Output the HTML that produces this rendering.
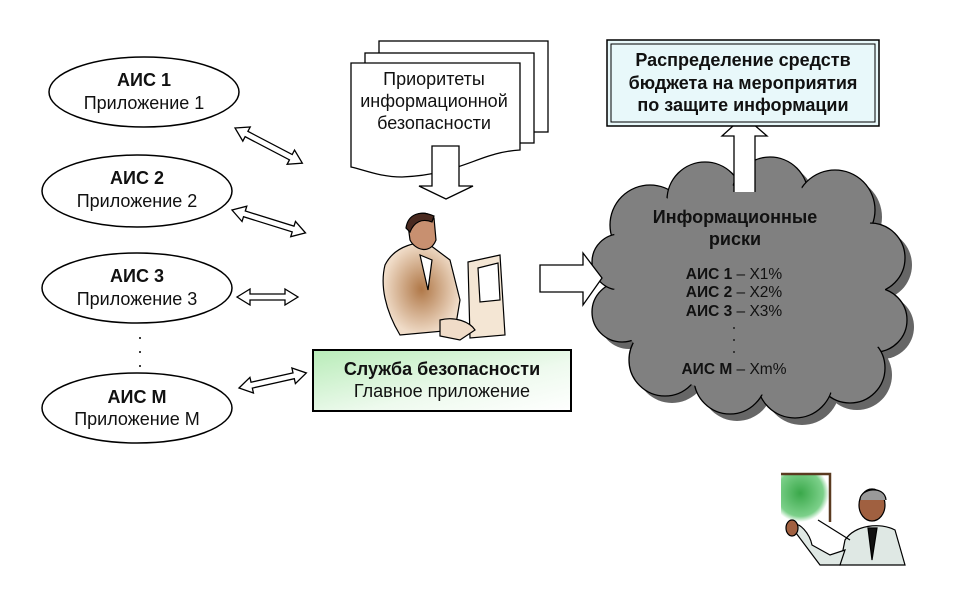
<!DOCTYPE html>
<html><head><meta charset="utf-8">
<style>
html,body{margin:0;padding:0;background:#fff;}
svg{display:block;}
text{font-family:"Liberation Sans","DejaVu Sans",sans-serif;fill:#111;}
.b{font-weight:bold;}
</style></head>
<body>
<svg width="965" height="612" viewBox="0 0 965 612" xmlns="http://www.w3.org/2000/svg">
<defs>
<linearGradient id="gg" x1="0" y1="0" x2="1" y2="1">
<stop offset="0" stop-color="#b8ecb8"/><stop offset="0.6" stop-color="#eefaee"/><stop offset="1" stop-color="#ffffff"/>
</linearGradient>
<radialGradient id="skin" cx="0.5" cy="0.5" r="0.5">
<stop offset="0" stop-color="#b07848"/><stop offset="1" stop-color="#f0dcc8"/>
</radialGradient>
<radialGradient id="board" cx="0.4" cy="0.4" r="0.6">
<stop offset="0" stop-color="#3aa84a"/><stop offset="0.8" stop-color="#7cd08a"/><stop offset="1" stop-color="#ffffff"/>
</radialGradient>
</defs>

<!-- ellipses -->
<g fill="#fff" stroke="#000" stroke-width="1.5">
<ellipse cx="144" cy="92" rx="95" ry="35"/>
<ellipse cx="137" cy="191" rx="95" ry="36"/>
<ellipse cx="137" cy="288" rx="95" ry="35"/>
<ellipse cx="137" cy="408" rx="95" ry="35"/>
</g>
<g text-anchor="middle" font-size="18">
<text x="144" y="86" class="b">АИС 1</text>
<text x="144" y="109">Приложение 1</text>
<text x="137" y="184" class="b">АИС 2</text>
<text x="137" y="207">Приложение 2</text>
<text x="137" y="282" class="b">АИС 3</text>
<text x="137" y="305">Приложение 3</text>
<text x="137" y="403" class="b">АИС М</text>
<text x="137" y="425">Приложение М</text>
</g>
<g fill="#000">
<circle cx="140" cy="338" r="1"/><circle cx="140" cy="352" r="1"/><circle cx="140" cy="366" r="1"/>
</g>

<!-- double arrows -->
<g fill="#fff" stroke="#000" stroke-width="1.3">
<g transform="translate(235,128) rotate(27.6)"><path d="M0,0 L13,-8 L13,-3 L63,-3 L63,-8 L76,0 L63,8 L63,3 L13,3 L13,8 Z"/></g>
<g transform="translate(232,210) rotate(17.3)"><path d="M0,0 L13,-8 L13,-3 L64,-3 L64,-8 L77,0 L64,8 L64,3 L13,3 L13,8 Z"/></g>
<g transform="translate(237,297)"><path d="M0,0 L13,-8 L13,-3 L48,-3 L48,-8 L61,0 L48,8 L48,3 L13,3 L13,8 Z"/></g>
<g transform="translate(239,388) rotate(-12.6)"><path d="M0,0 L13,-8 L13,-3 L56,-3 L56,-8 L69,0 L56,8 L56,3 L13,3 L13,8 Z"/></g>
</g>

<!-- documents -->
<g fill="#fff" stroke="#000" stroke-width="1.3">
<rect x="379" y="41" width="169" height="91"/>
<rect x="365" y="53" width="169" height="90"/>
<path d="M351,63 L520,63 L520,150 C480,152 460,175 402,177 C380,177 365,170 351,167 Z"/>
</g>
<g text-anchor="middle" font-size="18">
<text x="434" y="85">Приоритеты</text>
<text x="434" y="107">информационной</text>
<text x="434" y="129">безопасности</text>
</g>
<path d="M432,146 L459,146 L459,186 L473,186 L446,199 L419,186 L432,186 Z" fill="#fff" stroke="#000" stroke-width="1.3"/>

<!-- person at computer -->
<g stroke="#000" stroke-width="1.2">
<path d="M385,265 C395,245 420,240 430,245 L450,260 L460,300 L455,330 L400,335 C385,310 380,285 385,265 Z" fill="url(#skin)"/>
<path d="M408,225 C410,212 428,210 434,218 L436,240 C430,255 415,250 410,240 Z" fill="#c89070"/>
<path d="M406,228 C408,214 420,210 434,216 L432,222 C422,218 414,222 410,232 Z" fill="#4a2a20"/>
<path d="M420,255 L428,290 L432,260 Z" fill="#fff"/>
<path d="M468,262 L500,255 L505,335 L470,338 Z" fill="#f4e6d4"/>
<path d="M478,268 L498,263 L500,300 L480,302 Z" fill="#fff"/>
<path d="M440,320 C455,316 470,322 475,330 L460,340 L440,336 Z" fill="#f0dcc8"/>
</g>

<!-- service box -->
<rect x="313" y="350" width="258" height="61" fill="url(#gg)" stroke="#000" stroke-width="2"/>
<text x="442" y="375" text-anchor="middle" font-size="18" class="b">Служба безопасности</text>
<text x="442" y="397" text-anchor="middle" font-size="18">Главное приложение</text>

<!-- cloud shadow -->
<g fill="#666">
<g transform="translate(7,7)">
<ellipse cx="750" cy="290" rx="135" ry="105"/>
<circle cx="650" cy="225" r="40"/><circle cx="705" cy="200" r="38"/><circle cx="770" cy="195" r="38"/>
<circle cx="835" cy="210" r="40"/><circle cx="870" cy="258" r="35"/><circle cx="875" cy="320" r="32"/>
<circle cx="850" cy="368" r="35"/><circle cx="795" cy="380" r="38"/><circle cx="730" cy="378" r="36"/>
<circle cx="665" cy="360" r="36"/><circle cx="622" cy="312" r="30"/><circle cx="620" cy="262" r="28"/>
</g>
</g>
<g fill="#808080" stroke="#000" stroke-width="1.3">
<circle cx="650" cy="225" r="40"/><circle cx="705" cy="200" r="38"/><circle cx="770" cy="195" r="38"/>
<circle cx="835" cy="210" r="40"/><circle cx="870" cy="258" r="35"/><circle cx="875" cy="320" r="32"/>
<circle cx="850" cy="368" r="35"/><circle cx="795" cy="380" r="38"/><circle cx="730" cy="378" r="36"/>
<circle cx="665" cy="360" r="36"/><circle cx="622" cy="312" r="30"/><circle cx="620" cy="262" r="28"/>
</g>
<g fill="#808080">
<ellipse cx="750" cy="290" rx="135" ry="105"/>
<circle cx="650" cy="230" r="36"/><circle cx="705" cy="205" r="34"/><circle cx="770" cy="200" r="34"/>
<circle cx="835" cy="215" r="36"/><circle cx="865" cy="260" r="31"/><circle cx="870" cy="320" r="28"/>
<circle cx="845" cy="365" r="31"/><circle cx="795" cy="375" r="34"/><circle cx="730" cy="373" r="32"/>
<circle cx="668" cy="355" r="32"/><circle cx="627" cy="312" r="26"/><circle cx="625" cy="262" r="24"/>
</g>
<g text-anchor="middle" font-size="18">
<text x="735" y="223" class="b">Информационные</text>
<text x="735" y="245" class="b">риски</text>
</g>
<g font-size="15.5" text-anchor="middle">
<text x="734" y="279"><tspan font-weight="bold">АИС 1</tspan> – X1%</text>
<text x="734" y="297"><tspan font-weight="bold">АИС 2</tspan> – X2%</text>
<text x="734" y="316"><tspan font-weight="bold">АИС 3</tspan> – X3%</text>
<text x="734" y="374"><tspan font-weight="bold">АИС М</tspan> – Xm%</text>
</g>
<g fill="#000"><circle cx="734" cy="328" r="0.9"/><circle cx="734" cy="340" r="0.9"/><circle cx="734" cy="352" r="0.9"/></g>

<!-- right arrow -->
<path d="M540,265 L583,265 L583,253 L602,278 L583,305 L583,292 L540,292 Z" fill="#fff" stroke="#000" stroke-width="1.3"/>

<!-- up arrow -->
<path d="M734,192 L734,136 L722,136 L744,116 L767,136 L755,136 L755,192" fill="#fff" stroke="#000" stroke-width="1.3"/>

<!-- top box -->
<rect x="607" y="40" width="272" height="86" fill="#e8f8fa" stroke="#000" stroke-width="1.5"/>
<rect x="611" y="44" width="264" height="78" fill="none" stroke="#000" stroke-width="1"/>
<g text-anchor="middle" font-size="18">
<text x="743" y="66" class="b">Распределение средств</text>
<text x="743" y="89" class="b">бюджета на мероприятия</text>
<text x="743" y="111" class="b">по защите информации</text>
</g>

<!-- presenter -->
<rect x="781" y="474" width="48" height="48" fill="url(#board)"/>
<path d="M781,474 L830,474 L830,522" fill="none" stroke="#5a3a20" stroke-width="2.5"/>
<g stroke="#000" stroke-width="1.2">
<path d="M845,540 C855,525 880,522 895,530 L905,565 L840,565 Z" fill="#dfe8e4"/>
<ellipse cx="872" cy="505" rx="13" ry="16" fill="#a06040"/>
<path d="M860,500 C860,488 885,485 886,500" fill="#999"/>
<path d="M868,528 L872,560 L877,528 Z" fill="#111"/>
<path d="M790,525 C800,520 810,535 812,545 L830,555 L845,550 L840,565 L820,565 Z" fill="#dfe8e4"/>
<ellipse cx="792" cy="528" rx="6" ry="8" fill="#a06040"/>
<path d="M818,520 L850,540" stroke="#000"/>
</g>
</svg>
</body></html>
